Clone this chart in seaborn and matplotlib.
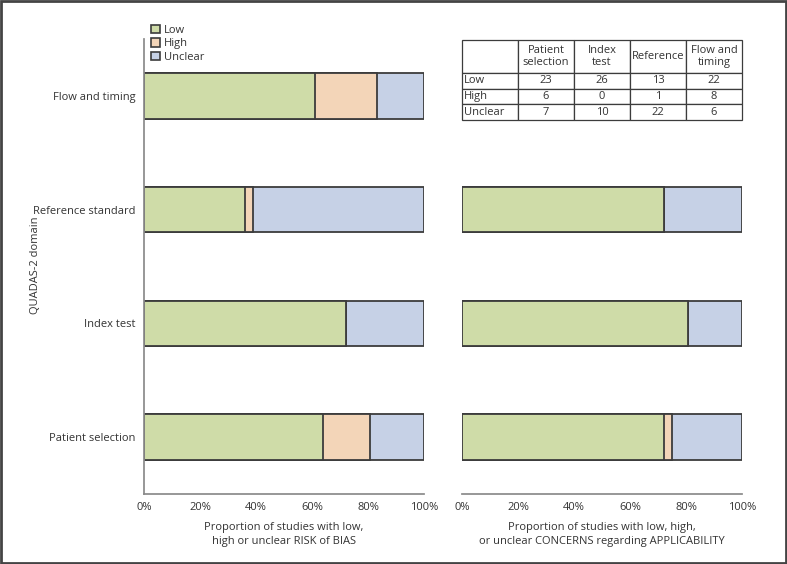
import matplotlib
matplotlib.use("Agg")
import matplotlib.pyplot as plt
from matplotlib.patches import Patch, Rectangle
from matplotlib.ticker import FixedLocator
import pandas as pd
import seaborn as sns

# -------------------------------
# Data
# -------------------------------
domains = ["Flow and timing", "Reference standard", "Index test", "Patient selection"]

# risk of bias (counts, also shown in the table)
bias_low = [22, 13, 26, 23]
bias_high = [8, 1, 0, 6]
bias_unclear = [6, 22, 10, 7]

# applicability concerns (no flow and timing domain)
appl_domains = ["Reference standard", "Index test", "Patient selection"]
appl_low = [26, 29, 26]
appl_high = [0, 0, 1]
appl_unclear = [10, 7, 9]

table_cols = ["Patient\nselection", "Index\ntest", "Reference", "Flow and\ntiming"]
table_rows = ["Low", "High", "Unclear"]

pct_ticks = [0, 20, 40, 60, 80, 100]

c_low = "#cfdca8"
c_high = "#f3d5b8"
c_unclear = "#c6d1e6"
c_edge = "#3c3c3c"
c_axis = "#8a8a8a"
c_text = "#333333"
FS = 8


def to_frame(names, low, high, unclear):
    df = pd.DataFrame({"domain": names, "low": low, "high": high, "unclear": unclear})
    tot = df["low"] + df["high"] + df["unclear"]
    df["p_low"] = df["low"] / tot * 100
    df["p_lowhigh"] = (df["low"] + df["high"]) / tot * 100
    df["p_all"] = 100.0
    return df


bias_df = to_frame(domains, bias_low, bias_high, bias_unclear)
appl_df = to_frame(appl_domains, appl_low, appl_high, appl_unclear)

# -------------------------------
# Figure
# -------------------------------
sns.set_theme(style="white")
plt.rcParams["font.family"] = ["Open Sans", "DejaVu Sans"]
plt.rcParams["text.color"] = c_text
plt.rcParams["axes.labelcolor"] = c_text
plt.rcParams["xtick.color"] = c_text
plt.rcParams["ytick.color"] = c_text

fig = plt.figure(figsize=(7.87, 5.64), dpi=100)
W, H = 787, 564
ax1 = fig.add_axes([144 / W, 1 - 494 / H, 280 / W, 455 / H])
ax2 = fig.add_axes([462 / W, 1 - 494 / H, 280 / W, 455 / H])


def stacked(ax, df):
    for col, c in [("p_all", c_unclear), ("p_lowhigh", c_high), ("p_low", c_low)]:
        sns.barplot(data=df, x=col, y="domain", order=domains, orient="h",
                    color=c, edgecolor=c_edge, linewidth=1.3, width=0.40,
                    saturation=1, ax=ax)
    ax.set_xlim(0, 100)
    ax.set_ylim(3.5, -0.5)
    ax.set_xlabel("")
    ax.set_ylabel("")
    ax.xaxis.set_major_locator(FixedLocator(pct_ticks))
    ax.set_xticklabels([f"{t}%" for t in pct_ticks], fontsize=FS)
    ax.tick_params(axis="x", direction="in", length=4, width=1, color=c_axis, pad=6)
    for s in ["top", "right"]:
        ax.spines[s].set_visible(False)
    ax.spines["bottom"].set_color(c_axis)
    ax.spines["left"].set_color(c_axis)


stacked(ax1, bias_df)
stacked(ax2, appl_df)

ax1.tick_params(axis="y", which="major", length=0, labelsize=FS, pad=6)
ax1.yaxis.set_minor_locator(FixedLocator([-0.5, 0.5, 1.5, 2.5, 3.5]))
ax1.tick_params(axis="y", which="minor", direction="out", length=4, width=1, color=c_axis)

ax2.spines["left"].set_visible(False)
ax2.set_yticks([])

ax1.set_xlabel("Proportion of studies with low,\nhigh or unclear RISK of BIAS",
               fontsize=FS, labelpad=6, linespacing=1.45)
ax2.set_xlabel("Proportion of studies with low, high,\nor unclear CONCERNS regarding APPLICABILITY",
               fontsize=FS, labelpad=6, linespacing=1.45)

fig.text(35 / W, 1 - 265 / H, "QUADAS-2 domain", rotation=90, fontsize=FS,
         ha="center", va="center")

# legend
handles = [Patch(facecolor=c, edgecolor=c_edge, linewidth=1.2) for c in [c_low, c_high, c_unclear]]
fig.legend(handles, ["Low", "High", "Unclear"], loc="upper left",
           bbox_to_anchor=(143 / W, 1 - 17 / H), frameon=False, fontsize=FS,
           handlelength=0.8, handleheight=0.8, handletextpad=0.4,
           labelspacing=0.22, borderpad=0.2)

# table of counts
axt = fig.add_axes([462 / W, 1 - 120 / H, 280 / W, 80 / H])
axt.axis("off")
cells = [[str(v) for v in row] for row in
         zip(*[[bias_low[3], bias_high[3], bias_unclear[3]],
               [bias_low[2], bias_high[2], bias_unclear[2]],
               [bias_low[1], bias_high[1], bias_unclear[1]],
               [bias_low[0], bias_high[0], bias_unclear[0]]])]
tbl = axt.table(cellText=[[""] + table_cols] + [[r] + c for r, c in zip(table_rows, cells)],
                cellLoc="center", bbox=[0, 0, 1, 1])
tbl.auto_set_font_size(False)
for (r, c), cell in tbl.get_celld().items():
    cell.set_edgecolor(c_edge)
    cell.set_linewidth(0.9)
    cell.get_text().set_fontsize(FS)
    cell.get_text().set_color(c_text)
    cell.get_text().set_linespacing(1.1)
    cell.set_height(2.1 if r == 0 else 1.0)
    cell.set_width(1.0)
    cell.PAD = 0.03
    if c == 0 and r > 0:
        cell.get_text().set_ha("left")
        cell._loc = "left"

# figure border
fig.patches.append(Rectangle((0.001, 0.001), 0.998, 0.998, transform=fig.transFigure,
                             fill=False, edgecolor="#444444", linewidth=2))

fig.savefig("out.png", dpi=100)
